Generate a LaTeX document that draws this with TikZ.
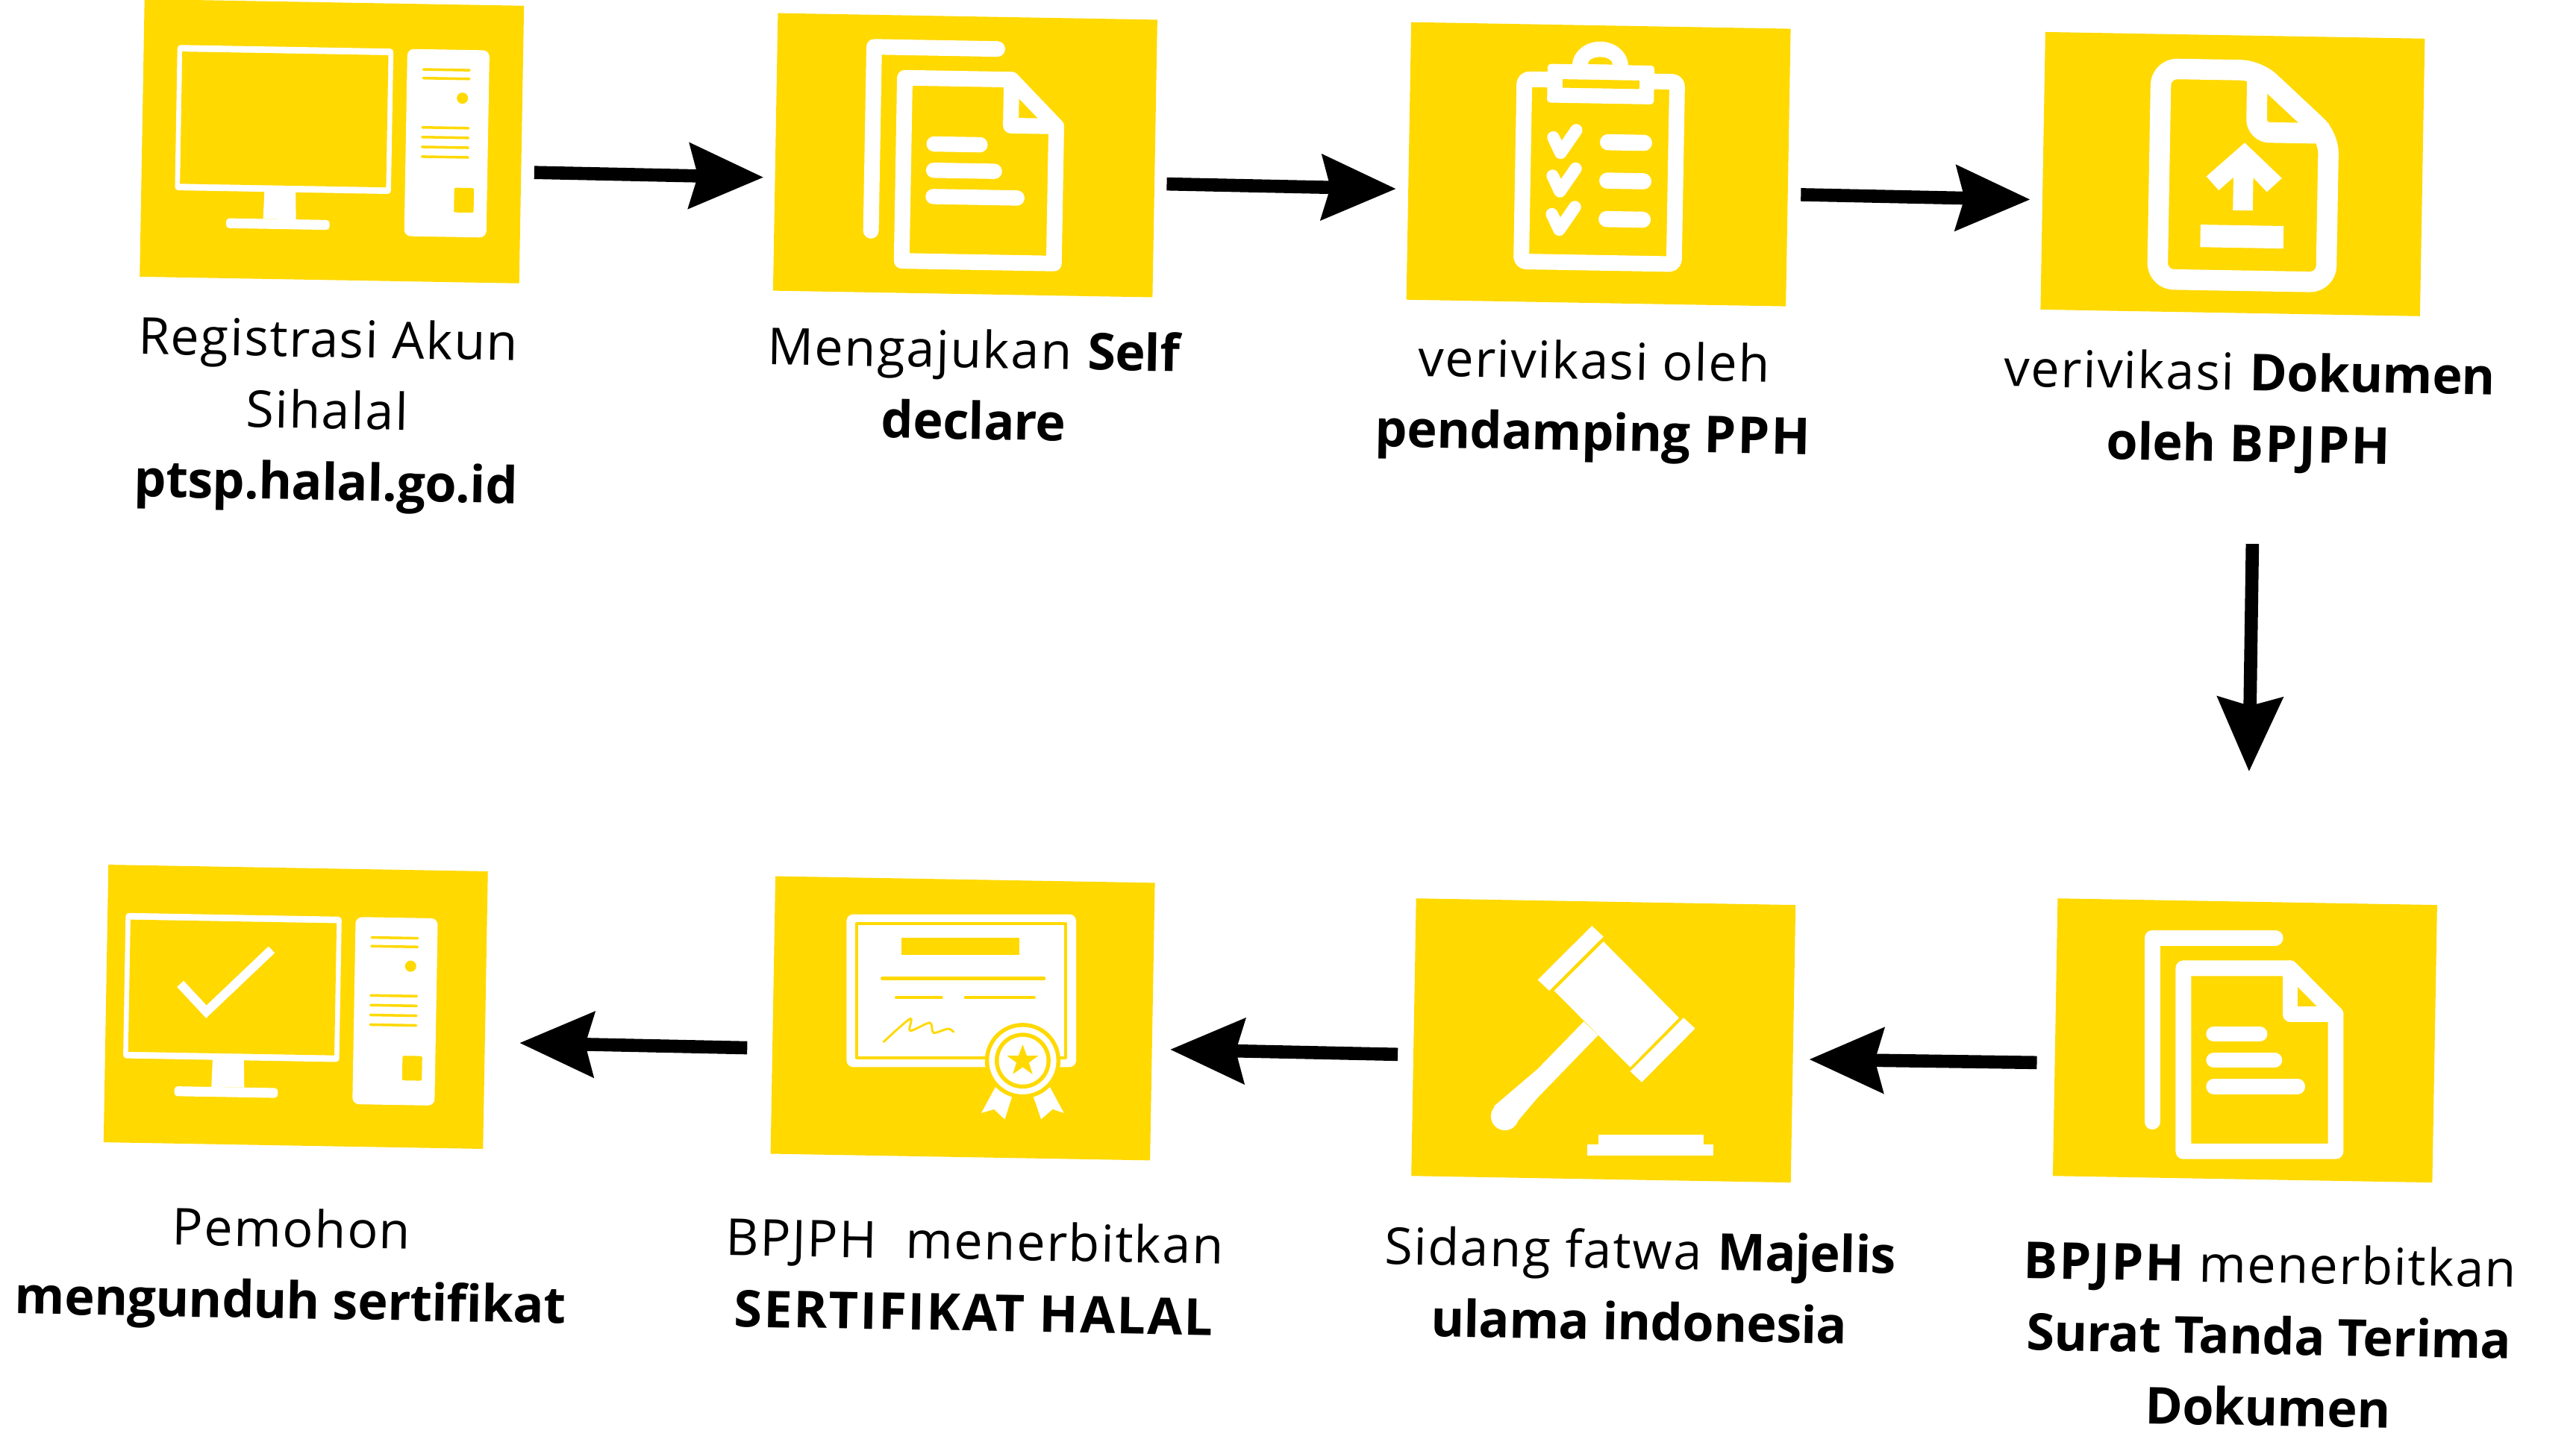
\documentclass[tikz,border=0pt]{standalone}
\usepackage{fontspec}
\setmainfont{Open Sans}[LetterSpace=2.5, BoldFeatures={LetterSpace=-0.8}]
\newfontfamily\capsFont{Open Sans}[BoldFeatures={LetterSpace=3.2}]
\usepackage{tikz}
\usetikzlibrary{arrows.meta}
\definecolor{boxYellow}{HTML}{FFD900}
\tikzstyle{iconBox} = [rectangle, fill=boxYellow, minimum width=231pt, minimum height=169pt, inner sep=0pt, rotate=-1]
\tikzstyle{iconLabel} = [text centered, align=center, inner sep=0pt, rotate=-1, font=\fontsize{31}{43.5}\selectfont]
\tikzstyle{connector} = [draw, line width=8pt, -{Stealth[length=45pt, width=39pt, inset=5pt]}]
\tikzstyle{whiteFill} = [fill=white, rounded corners=2pt]
\tikzstyle{yellowFill} = [fill=boxYellow, rounded corners=1pt]
\tikzstyle{whiteLine} = [draw=white, line cap=round, line join=round]
\tikzstyle{yellowLine} = [draw=boxYellow, line cap=round, line join=round]

\newcommand{\capsBold}[1]{{\capsFont\bfseries #1}}
\newcommand{\monitorIcon}{
  \path[whiteFill] (-95,-57) rectangle (36.5,31.5);
  \path[fill=boxYellow] (-92,-53) rectangle (33.5,27.5);
  \path[fill=white] (-40.5,31) -- (-21.5,31) -- (-21,48) -- (-41,48) -- cycle;
  \path[whiteFill] (-63.5,48) rectangle (-0.5,54);
  \path[whiteFill, rounded corners=4pt] (45,-57) rectangle (95,57);
  \foreach \y in {-44.7,-39.4,-9.4,-3.5,2.5,8.4} {
    \draw[yellowLine, line width=1.6pt] (55,\y) -- (83,\y);
  }
  \path[fill=boxYellow] (79,-27.6) circle (3.4);
  \path[yellowFill] (75,27) rectangle (87,42);
}
\newcommand{\docIcon}{
  \draw[whiteLine, line width=9.5pt] (18.5,-62.5) -- (-56.5,-62.5) -- (-56.5,49.5);
  \draw[whiteLine, line width=9.5pt] (-37.5,-44) -- (27.5,-44) -- (55.2,-16) -- (55.2,67.5) -- (-37.5,67.5) -- cycle;
  \draw[whiteLine, line width=9.5pt] (27.5,-44) -- (27.5,-16) -- (55.2,-16);
  \draw[whiteLine, line width=9.3pt] (-19,-4) -- (9,-4);
  \draw[whiteLine, line width=9.3pt] (-19,12) -- (18,12);
  \draw[whiteLine, line width=9.3pt] (-19,28) -- (32,28);
}

\begin{document}
\begin{tikzpicture}[x=1pt, y=-1pt]
\useasboundingbox (0,0) rectangle (1568,884.9);

\node[iconBox] at (202,86) (boxAccount) {};
\node[iconBox] at (587.5,94.5) (boxDeclare) {};
\node[iconBox] at (973,100) (boxCompanion) {};
\node[iconBox] at (1359,106) (boxDocument) {};
\node[iconBox] at (1366.5,633.5) (boxReceipt) {};
\node[iconBox] at (976,633.5) (boxFatwa) {};
\node[iconBox] at (586,620) (boxCertificate) {};
\node[iconBox] at (180,613) (boxDownload) {};

\node[iconLabel] at (199,253) (labelAccount) {Registrasi Akun\\Sihalal\\\textbf{ptsp.halal.go.id}};
\node[iconLabel] at (593,234) (labelDeclare) {Mengajukan \textbf{Self}\\\textbf{declare}};
\node[iconLabel] at (970,244.5) (labelCompanion) {verivikasi oleh\\\textbf{pendamping} \capsBold{PPH}};
\node[iconLabel] at (1369,251) (labelDocument) {verivikasi \textbf{Dokumen}\\\textbf{oleh} \capsBold{BPJPH}};
\node[iconLabel] at (1381,813) (labelReceipt) {\capsBold{BPJPH} menerbitkan\\\textbf{Surat Tanda Terima}\\\textbf{Dokumen}};
\node[iconLabel] at (998,782.5) (labelFatwa) {Sidang fatwa \textbf{Majelis}\\\textbf{ulama indonesia}};
\node[iconLabel] at (593,777) (labelCertificate) {BPJPH\ \ menerbitkan\\\capsBold{SERTIFIKAT HALAL}};
\node[iconLabel] at (177,773) (labelDownload) {Pemohon\\\textbf{mengunduh sertifikat}};

% icons
\begin{scope}[shift={(202,86)}, rotate=-1]
  \monitorIcon
\end{scope}

\begin{scope}[shift={(587.5,92)}, rotate=-1]
  \docIcon
\end{scope}

\begin{scope}[shift={(973,100)}, rotate=-1]
  \path[fill=white] (-17,-60) arc[start angle=180, end angle=360, x radius=17, y radius=14.7] -- cycle;
  \path[fill=boxYellow] (-7.5,-60.8) arc[start angle=180, end angle=360, x radius=7.5, y radius=4.5] -- cycle;
  \draw[whiteLine, line width=9.5pt, rounded corners=3pt] (-32,-51) -- (-46,-51) -- (-46,60) -- (47,60) -- (47,-51) -- (33,-51);
  \path[whiteFill] (-32,-60.6) rectangle (33,-37);
  \path[fill=boxYellow] (-22.7,-51.4) rectangle (24,-46.2);
  \foreach \y in {0,23.4,46.8} {
    \draw[whiteLine, line width=7.5pt] (-27.8,-15.9+\y) -- (-23.2,-6.5+\y) -- (-13.9,-20.5+\y);
    \draw[whiteLine, line width=9.8pt] (5.5,-13.5+\y) -- (27.5,-13.5+\y);
  }
\end{scope}

\begin{scope}[shift={(1359,106)}, rotate=-1]
  \draw[whiteLine, line width=12.5pt, rounded corners=10pt] (14,-63.4) -- (-44.7,-63.4) -- (-44.7,64.8) -- (58,64.8) -- (58,-23.6) -- cycle;
  \draw[white, line width=12.5pt, rounded corners=8pt] (14,-63.4) -- (14,-25.7) -- (58,-25.7);
  \path[fill=white] (7,-19.2) -- (30,2) -- (21,10.5) -- (12.6,2) -- (12.6,22) -- (0.5,22) -- (0.5,2) -- (-8.3,10) -- (-16,1.7) -- cycle;
  \path[fill=white] (-19,31.1) rectangle (31.6,44.8);
\end{scope}

\begin{scope}[shift={(1366.5,633.5)}]
  \docIcon
\end{scope}

\begin{scope}[shift={(976,633.5)}]
  \path[fill=white] (0,-60.2) -- (46,-13.8) -- (16.3,16.3) -- (-30,-30.3) -- cycle;
  \path[fill=white] (-7,-69.8) -- (0,-63.2) -- (-33,-30.3) -- (-40,-36.9) -- cycle;
  \path[fill=white] (48.8,-13.8) -- (55.8,-7.3) -- (23.3,25.4) -- (16.3,18.8) -- cycle;
  \path[fill=white] (-12,-11.5) -- (-40,17.3) -- (-66.7,40.1) -- (-54.2,51.5) -- (-40,34.8) -- (-3.2,-3.2) -- cycle;
  \path[fill=white] (-60,46.2) circle (8.5);
  \path[fill=white] (-3.2,57.5) rectangle (60.9,63.5);
  \path[fill=white] (-9.7,63.5) rectangle (67,70);
\end{scope}

\begin{scope}[shift={(586,620)}]
  \path[whiteFill, rounded corners=4pt] (-70.7,-63.3) rectangle (69,29.7);
  \draw[yellowLine, line width=1.8pt] (-64.7,-57.7) rectangle (62.5,24);
  \path[fill=boxYellow] (-37.3,-49) rectangle (34.3,-38.4);
  \draw[yellowLine, line width=2pt] (-49,-24.3) -- (49.5,-24.3);
  \draw[yellowLine, line width=2pt] (-40.4,-12.6) -- (-13,-12.6);
  \draw[yellowLine, line width=2pt] (1.7,-12.6) -- (43.4,-12.6);
  \draw[yellowLine, line width=1.3pt] plot[smooth] coordinates {(-48.2,14.4) (-32,0.3) (-32,7.6) (-20,2.7) (-17.8,8.8) (-9,6.4) (-5.6,8.3)};
  \path[fill=white] (20,41.7) -- (30,47.8) -- (25.6,61.5) -- (19,55.4) -- (11.3,57.7) -- cycle;
  \path[fill=white] (53,41.7) -- (43,47.8) -- (47.7,61.5) -- (54.7,55.4) -- (61.6,57.7) -- cycle;
  \path[fill=boxYellow] (36.5,25.8) circle (23);
  \path[fill=white] (36.5,25.8) circle (20.5);
  \path[fill=boxYellow] (36.5,25.8) circle (17);
  \path[fill=white] (36.5,25.8) circle (14.5);
  \path[fill=boxYellow] (36.5,16) -- (39,22.8) -- (46,22.8) -- (40.3,27) -- (42.5,34) -- (36.5,29.8) -- (30.5,34) -- (32.7,27) -- (27,22.8) -- (34,22.8) -- cycle;
\end{scope}

\begin{scope}[shift={(170.5,614.5)}, rotate=-1]
  \monitorIcon
  \draw[white, line width=5.5pt] (-61,-14.4) -- (-44.9,2.3) -- (-5.8,-36.2);
\end{scope}

\path [connector] ([shift={(7.5,17)}]boxAccount.east) -- ([shift={(-7,15.5)}]boxDeclare.west);
\path [connector] ([shift={(7,15.5)}]boxDeclare.east) -- ([shift={(-7.5,17)}]boxCompanion.west);
\path [connector] ([shift={(7.5,16.5)}]boxCompanion.east) -- ([shift={(-7.5,17.5)}]boxDocument.west);
\path [connector] ([shift={(13.5,140.5)}]boxDocument.south) -- ([shift={(1,-79)}]boxReceipt.north);
\path [connector] ([shift={(-11,15.5)}]boxReceipt.west) -- ([shift={(9.5,9.5)}]boxFatwa.east);
\path [connector] ([shift={(-9.5,10.5)}]boxFatwa.west) -- ([shift={(10.5,17)}]boxCertificate.east);
\path [connector] ([shift={(-15.5,20)}]boxCertificate.west) -- ([shift={(20.5,20)}]boxDownload.east);

\end{tikzpicture}
\end{document}
